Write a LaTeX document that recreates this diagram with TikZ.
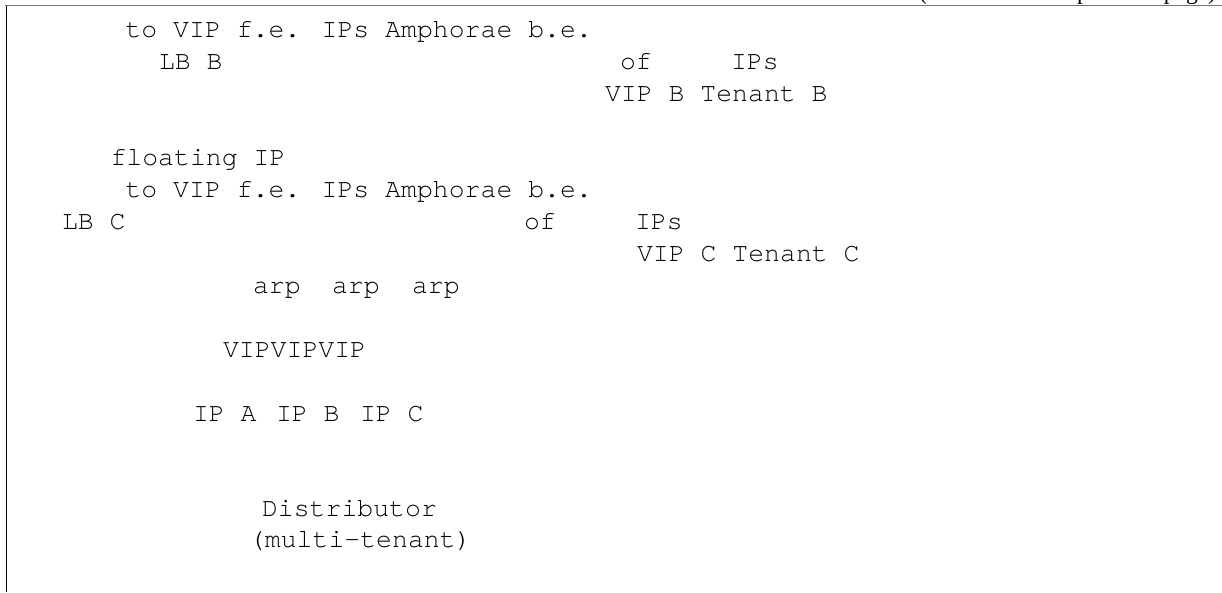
\documentclass[tikz,border=0pt]{standalone}
\usepackage{fontspec}
\newfontfamily\monofam[Ligatures=NoCommon]{TeX Gyre Cursor}
\newfontfamily\hdrfam{Liberation Serif}
\tikzset{
  txt/.style={font=\monofam\fontsize{26.5}{30}\selectfont, anchor=base west, inner sep=0pt, outer sep=0pt},
  hdr/.style={font=\hdrfam\fontsize{23.5}{28}\selectfont, anchor=base east, inner sep=0pt, outer sep=0pt},
  toprule/.style={draw=black!55, line width=1.4pt},
  siderule/.style={draw=black, line width=1.4pt}
}
\begin{document}
\begin{tikzpicture}[x=1pt,y=-1pt]
\useasboundingbox (0,0) rectangle (1222,592);
% cut-off header
\node[hdr] (hdr) at (1216,-0.8) {(continued from previous page)};
% frame
\coordinate (tl) at (5,5.5);
\coordinate (tr) at (1222,5.5);
\coordinate (lt) at (6.5,5.5);
\coordinate (lb) at (6.5,592);
\draw[toprule] (tl) -- (tr);
\draw[siderule] (lt) -- (lb);
% tenant B
\node[txt] (b1) at (125.5,37) {to VIP f.e. IPs Amphorae b.e.};
\node[txt] (lbb) at (159,69) {LB B};
\node[txt] (ofb) at (620,69) {of};
\node[txt] (ipsb) at (731,69) {IPs};
\node[txt] (vipb) at (605,101) {VIP B Tenant B};
% tenant C
\node[txt] (fip) at (110.5,165) {floating IP};
\node[txt] (c1) at (125.5,197) {to VIP f.e. IPs Amphorae b.e.};
\node[txt] (lbc) at (62,229) {LB C};
\node[txt] (ofc) at (524,229) {of};
\node[txt] (ipsc) at (635,229) {IPs};
\node[txt] (vipc) at (637,261) {VIP C Tenant C};
% distributor
\node[txt] (arp1) at (253,293) {arp};
\node[txt] (arp2) at (332,293) {arp};
\node[txt] (arp3) at (412,293) {arp};
\node[txt] (vips) at (223,357) {VIPVIPVIP};
\node[txt] (ipa) at (193,421) {IP A};
\node[txt] (ipb) at (276,421) {IP B};
\node[txt] (ipc) at (360,421) {IP C};
\node[txt] (dist) at (262,516) {Distributor};
\node[txt] (mt) at (249,547) {(multi-tenant)};
\end{tikzpicture}
\end{document}
